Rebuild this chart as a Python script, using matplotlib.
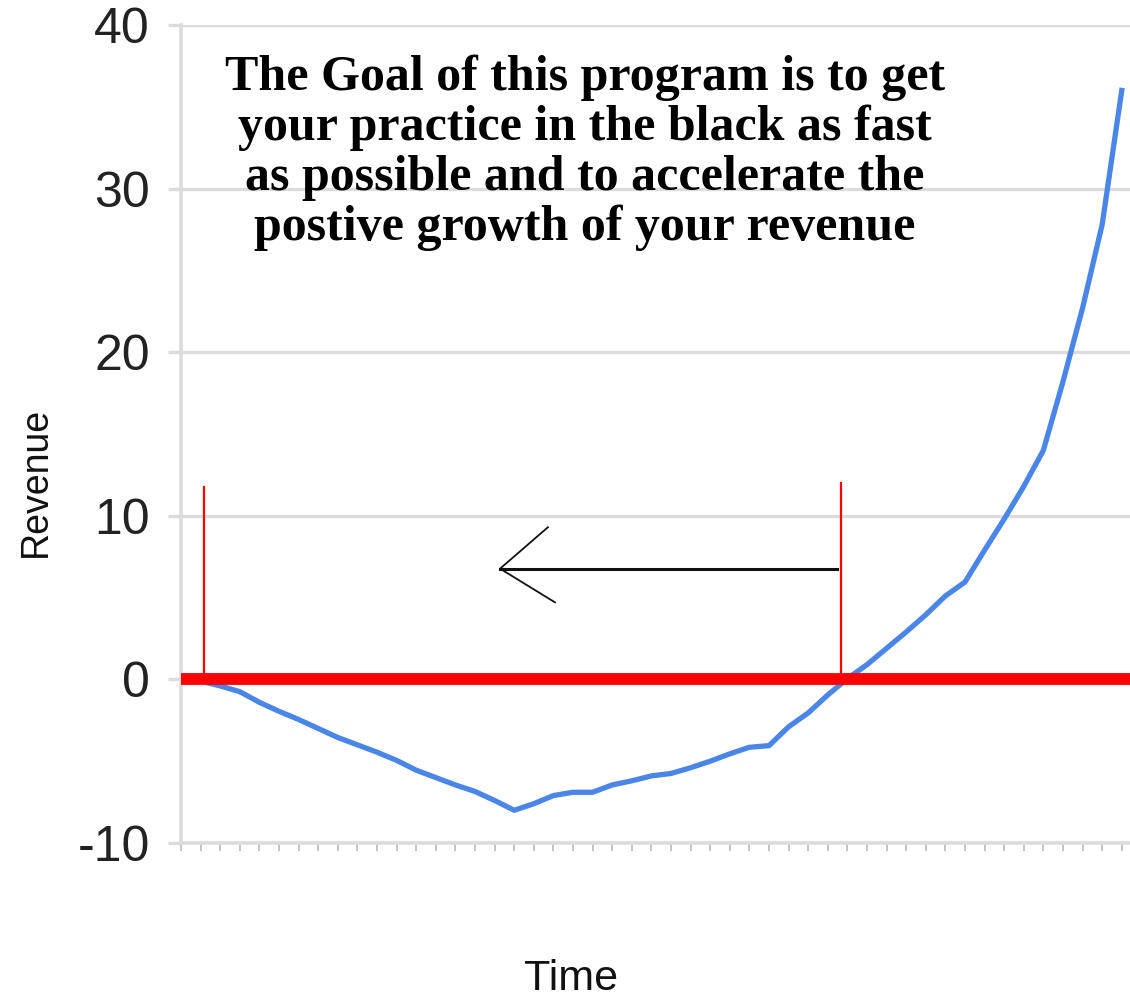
# import required modules
import matplotlib
matplotlib.use('Agg')
import matplotlib.pyplot as plt

# ---------------------------------------1. Chart data------------------------------------------------------------------#
time = list(range(49))  # one point per tick on the time axis
revenue = [0, -0.1, -0.4, -0.75, -1.4, -1.95, -2.45, -3.0, -3.55, -4.0,
           -4.45, -4.95, -5.55, -6.0, -6.45, -6.85, -7.4, -8.0, -7.6, -7.1,
           -6.9, -6.9, -6.45, -6.2, -5.9, -5.75, -5.4, -5.0, -4.55, -4.15,
           -4.05, -2.9, -2.05, -0.95, 0.05, 0.9, 1.9, 2.9, 3.95, 5.1,
           5.95, 7.9, 9.8, 11.8, 14.0, 18.2, 22.7, 27.8, 36.0]

y_ticks = [-10, 0, 10, 20, 30, 40]
y_tick_labels = ['-10', '0', '10', '20', '30', '40']

goal_text = ('The Goal of this program is to get\n'
             'your practice in the black as fast\n'
             'as possible and to accelerate the\n'
             'postive growth of your revenue')

# hand drawn markers (data coords): start / break-even lines and the arrow between them
start_x, start_top = 1.17, 11.75
even_x, even_top = 33.7, 12.0
arrow_tail = (33.45, 6.77)
arrow_head = (16.28, 6.77)
arm_up = (18.72, 9.3)
arm_down = (19.08, 4.71)

grid_col = '#dcdcdc'

#-----------------------------------------2. Creating chart-------------------------------------------------------------#
fig = plt.figure(figsize=(11.3, 9.98), dpi=100)
ax = fig.add_axes([181 / 1130, 155 / 998, 949 / 1130, 818 / 998])

ax.set_xlim(0, 48.42)
ax.set_ylim(-10, 40)

# grid and axis lines in the google-chart grey
ax.set_yticks(y_ticks)
ax.set_yticklabels(y_tick_labels, fontfamily='Liberation Sans', fontsize=36, color='#222222')
ax.yaxis.grid(True, color=grid_col, linewidth=2.4, zorder=0)
ax.tick_params(axis='y', length=9.5, width=2.4, color=grid_col, pad=13)
ax.set_xticks(time)
ax.set_xticklabels([])
ax.tick_params(axis='x', length=6, width=1.4, color='#c4c4c4')
for side in ['top', 'right']:
    ax.spines[side].set_visible(False)
for side in ['left', 'bottom']:
    ax.spines[side].set_color(grid_col)
    ax.spines[side].set_linewidth(2.6)

# revenue curve
ax.plot(time, revenue, color='#4a86e8', linewidth=3.8, zorder=3, solid_joinstyle='round')

# break even line and the two vertical markers
ax.axhline(0, color='#ff0000', linewidth=8.5, zorder=4)
ax.plot([start_x, start_x], [0, start_top], color='#ff0000', linewidth=1.6, zorder=5)
ax.plot([even_x, even_x], [0, even_top], color='#ff0000', linewidth=1.6, zorder=5)

# arrow pointing back towards the start
ax.plot([arrow_tail[0], arrow_head[0]], [arrow_tail[1], arrow_head[1]], color='#111111', linewidth=2.2, zorder=5)
ax.plot([arm_up[0], arrow_head[0], arm_down[0]], [arm_up[1], arrow_head[1], arm_down[1]],
        color='#111111', linewidth=1.3, zorder=5)

# message
ax.text(20.6, 32.2, goal_text, ha='center', va='center', fontfamily='Liberation Serif',
        fontweight='bold', fontsize=36, linespacing=1.1, color='black', zorder=6)

# axis titles
ax.set_ylabel('Revenue', fontfamily='Liberation Sans', fontsize=27, color='#111111')
ax.yaxis.set_label_coords(-0.134, 0.441)
ax.set_xlabel('Time', fontfamily='Liberation Sans', fontsize=31, color='#111111', va='center')
ax.xaxis.set_label_coords(0.411, -0.166)

fig.savefig('out.png', dpi=100)
